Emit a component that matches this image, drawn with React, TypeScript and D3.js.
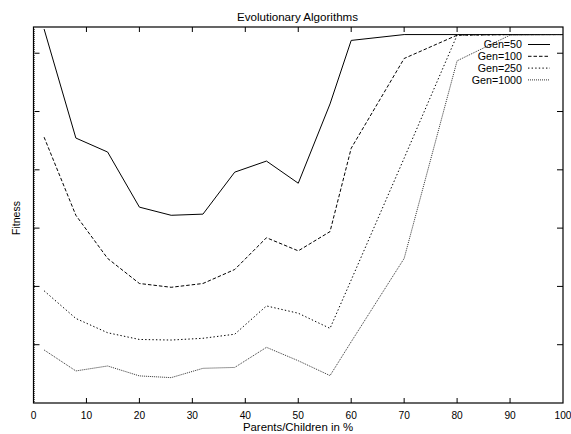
import React from "react";
import * as d3 from "d3";

const xValues = [2, 8, 14, 20, 26, 32, 38, 44, 50, 56, 60, 70, 80, 90, 100];
const gen50 = [6.415, 4.545, 4.305, 3.36, 3.22, 3.24, 3.96, 4.15, 3.77, 5.13, 6.22, 6.32, 6.32, 6.32, 6.32];
const gen100 = [4.56, 3.22, 2.48, 2.05, 1.985, 2.05, 2.29, 2.835, 2.61, 2.94, 4.37, 5.91, 6.31, 6.32, 6.32];
const gen250 = [1.925, 1.45, 1.205, 1.09, 1.08, 1.11, 1.18, 1.665, 1.54, 1.28, 2.11, 4.2, 6.31, 6.32, 6.32];
const gen1000 = [0.91, 0.55, 0.635, 0.465, 0.435, 0.595, 0.61, 0.955, 0.725, 0.47, 1.05, 2.48, 5.87, 6.31, 6.32];
const seriesNames = ["Gen=50", "Gen=100", "Gen=250", "Gen=1000"];
const xTicks = [0, 10, 20, 30, 40, 50, 60, 70, 80, 90, 100];
const yTicks = [1, 2, 3, 4, 5, 6];

const W = 571;
const H = 434;
const L = 33.5, R = 563, T = 27, B = 403;

export default function App() {
  const x = d3.scaleLinear().domain([0, 100]).range([L, R]);
  const y = d3.scaleLinear().domain([0, 6.45]).range([B, T]);
  const line = d3
    .line<number>()
    .x((_, i) => x(xValues[i]))
    .y((d) => y(d));
  const all = [gen50, gen100, gen250, gen1000];
  const styles = [
    { dash: "none", color: "#000", w: 1 },
    { dash: "3.5,2", color: "#000", w: 1 },
    { dash: "1.4,2.2", color: "#000", w: 1 },
    { dash: "1,1", color: "#333", w: 1 },
  ];
  const font = "'Liberation Sans', Arial, Helvetica, sans-serif";
  return (
    <svg width={W} height={H} style={{ position: "absolute", left: 0, top: 0, background: "#fff" }}>
      <rect x={0} y={0} width={W} height={H} fill="#fff" />
      <text x={297.5} y={21} textAnchor="middle" fontFamily={font} fontSize={11.6} fill="#000">
        Evolutionary Algorithms
      </text>
      {/* ticks */}
      {xTicks.map((t) => (
        <g key={"x" + t}>
          {t > 0 && t < 100 && (
            <>
              <line x1={x(t)} x2={x(t)} y1={B} y2={B - 5} stroke="#000" strokeWidth={1} />
              <line x1={x(t)} x2={x(t)} y1={T} y2={T + 5} stroke="#000" strokeWidth={1} />
            </>
          )}
          <text x={x(t)} y={418.5} textAnchor="middle" fontFamily={font} fontSize={10.2} fill="#000">
            {t}
          </text>
        </g>
      ))}
      {yTicks.map((t) => (
        <g key={"y" + t}>
          <line x1={L} x2={L + 6} y1={y(t)} y2={y(t)} stroke="#000" strokeWidth={1} />
          <line x1={R} x2={R - 6} y1={y(t)} y2={y(t)} stroke="#000" strokeWidth={1} />
        </g>
      ))}
      {/* series */}
      {all.map((s, i) => (
        <path
          key={i}
          d={line(s) || ""}
          fill="none"
          stroke={styles[i].color}
          strokeWidth={styles[i].w}
          strokeDasharray={styles[i].dash}
        />
      ))}
      {/* frame */}
      <rect x={L} y={T} width={R - L} height={B - T} fill="none" stroke="#000" strokeWidth={1.2} />
      <line x1={L + 1} x2={L + 1} y1={T} y2={B} stroke="#666" strokeWidth={1} strokeDasharray="1,1" />
      {/* legend */}
      {seriesNames.map((n, i) => {
        const ly = 44.5 + i * 11.8;
        return (
          <g key={n}>
            <text x={522} y={ly} dy="0.35em" textAnchor="end" fontFamily={font} fontSize={10.7} fill="#000">
              {n}
            </text>
            <line x1={528} x2={550} y1={ly} y2={ly} stroke={styles[i].color} strokeWidth={styles[i].w} strokeDasharray={styles[i].dash} />
          </g>
        );
      })}
      <text x={298} y={431} textAnchor="middle" fontFamily={font} fontSize={11.4} fill="#000">
        Parents/Children in %
      </text>
      <text
        transform={`translate(19.5,218) rotate(-90)`}
        textAnchor="middle"
        fontFamily={font}
        fontSize={10.5}
        fill="#000"
      >
        Fitness
      </text>
    </svg>
  );
}
